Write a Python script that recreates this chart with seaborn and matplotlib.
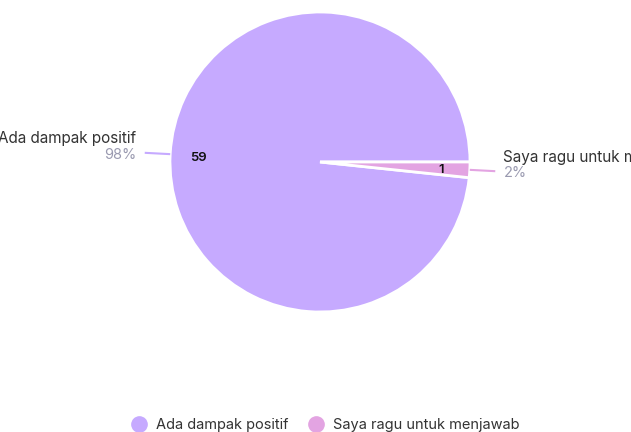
import numpy as np
import matplotlib
matplotlib.use("Agg")
import matplotlib.pyplot as plt
import seaborn as sns
from matplotlib.lines import Line2D

categories = ["Ada dampak positif", "Saya ragu untuk menjawab"]
counts = [59, 1]
percent_labels = ["98%", "2%"]
colors = ["#C6AAFF", "#E3A4E2"]

sns.set_theme(style="white")
plt.rcParams["font.family"] = ["Inter", "DejaVu Sans"]

W, H = 631, 432
fig = plt.figure(figsize=(W / 100, H / 100), dpi=100)
ax = fig.add_axes([0, 0, 1, 1])

cx, cy, R = 320, 270, 150
wedges, _ = ax.pie(counts, colors=colors, startangle=0, counterclock=True,
                   center=(cx, cy), radius=R, frame=True,
                   wedgeprops=dict(edgecolor="white", linewidth=2))
ax.set_xlim(0, W)
ax.set_ylim(0, H)
ax.set_aspect("equal")
ax.axis("off")

for w, cat, cnt, pct, col in zip(wedges, categories, counts, percent_labels, colors):
    mid = np.deg2rad((w.theta1 + w.theta2) / 2)
    c, s = np.cos(mid), np.sin(mid)
    # value inside
    ax.text(cx + 0.81 * R * c, cy + 0.81 * R * s - 2, str(cnt), ha="center", va="center",
            fontsize=9.5, color="#111111", fontweight="semibold")
    # leader line
    x0, y0 = cx + 1.0 * R * c, cy + 1.0 * R * s
    x1, y1 = cx + 1.17 * R * c, cy + 1.17 * R * s
    ax.plot([x0, x1], [y0, y1], color=col, lw=1.5, solid_capstyle="butt")
    ha = "left" if c > 0 else "right"
    xt = cx + 1.225 * R * c
    ax.text(xt, y1 + 14, cat, ha=ha, va="center", fontsize=11, color="#333333")
    ax.text(xt, y1 - 2, pct, ha=ha, va="center", fontsize=10.5, color="#9A9AB0")

handles = [Line2D([0], [0], marker="o", linestyle="", markersize=11,
                  markerfacecolor=c_, markeredgecolor=c_) for c_ in colors]
fig.legend(handles, categories, loc="center", bbox_to_anchor=(0.51, 1 - 425 / H),
           ncol=2, frameon=False, fontsize=10.5, handletextpad=0.15, columnspacing=0.9,
           labelcolor="#333333")

fig.savefig("out.png", dpi=100, facecolor="white")
